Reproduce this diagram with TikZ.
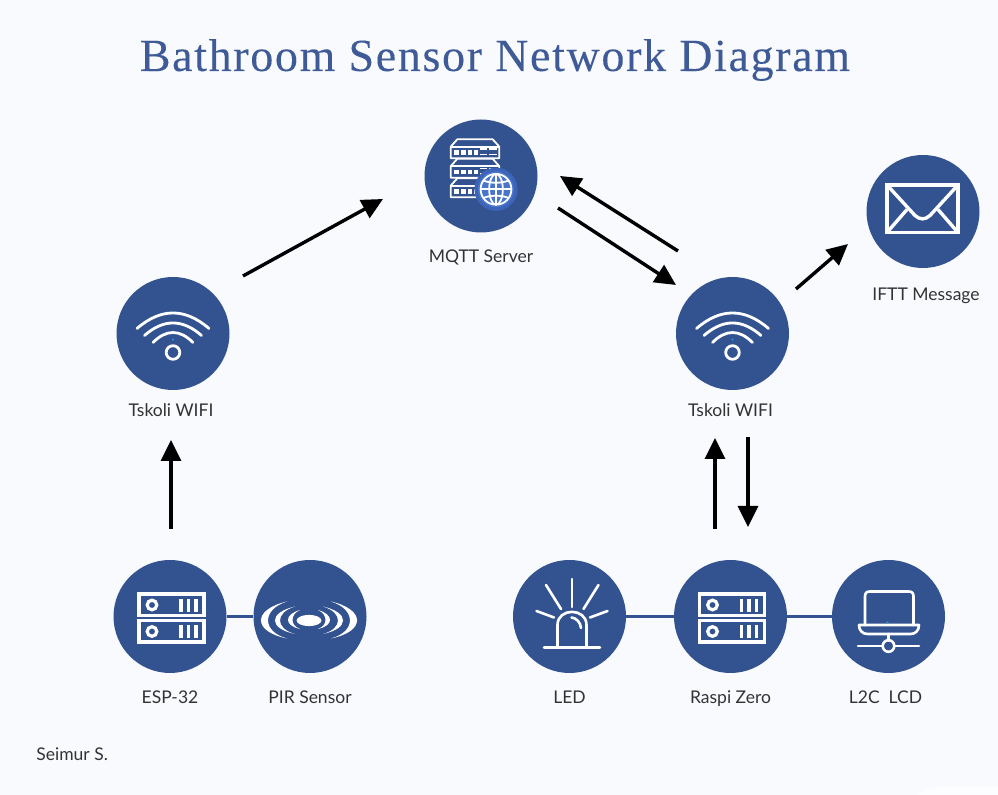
\documentclass[tikz,border=0pt]{standalone}
\usepackage{fontspec}
\usepackage{xcolor}
\usetikzlibrary{positioning,arrows.meta}
\setmainfont{Lato}
\newfontfamily\titlefont[LetterSpace=3.6,FakeBold=0.12]{Liberation Serif}
\definecolor{pagebg}{HTML}{F9FAFD}
\definecolor{cornerbg}{HTML}{FCFDFE}
\definecolor{discblue}{HTML}{325290}
\definecolor{titleblue}{HTML}{3F5B97}
\definecolor{globeblue}{HTML}{4874CB}
\definecolor{globering}{HTML}{3C65B8}
\definecolor{dotblue}{HTML}{2A9ADF}
\definecolor{labelgrey}{HTML}{333333}

\tikzset{
    disc/.style={circle, fill=discblue, draw=none, minimum size=56.5pt, inner sep=0pt},
    tag/.style={text=labelgrey, font=\fontsize{8.75}{10}\selectfont, inner sep=0pt},
    flow/.style={-{Triangle[length=10.5pt,width=10pt]}, line width=1.7pt, black},
    link/.style={line width=1.8pt, discblue},
    glyph/.style={white, line width=1.3pt},
}

% icons, all drawn round the centre of a disc
\newcommand{\iconrack}[1]{
    \begin{scope}[shift={(#1)}, glyph, line width=1.6pt]
        \foreach \yy in {0,26.5} {
            \draw (-31,-22.5+\yy) rectangle (34,-1+\yy);
            \draw (-18,-11.5+\yy) circle (2.4pt);
            \foreach \xx in {11,18.5,26}
                \draw[line width=1.7pt] (\xx,-17.5+\yy) -- (\xx,-4.5+\yy);
        }
    \end{scope}
}
\newcommand{\iconwifi}[1]{
    \begin{scope}[shift={(#1)}, glyph, line width=1.4pt, line cap=round]
        \draw (-36,-5) .. controls (-12,-25.7) and (12,-25.7) .. (36,-5);
        \draw (-28.5,2) .. controls (-9.5,-14.7) and (9.5,-14.7) .. (28.5,2);
        \draw (-20,9) .. controls (-6.7,-4.3) and (6.7,-4.3) .. (20,9);
        \draw (0,19) circle (3.4pt);
        \fill[dotblue] (0,6) circle (0.6pt);
    \end{scope}
}
\newcommand{\iconmail}[1]{
    \begin{scope}[shift={(#1)}, glyph, line width=1.7pt]
        \draw (-36,-26.5) rectangle (35,21);
        \draw (-36,-26.5) -- (-8,4) .. controls (-3,8.5) and (2,8.5) .. (7,4) -- (35,-26.5);
        \draw (-36,21) -- (-16,-2);
        \draw (35,21) -- (15,-2);
    \end{scope}
}
\newcommand{\iconstack}[1]{
    \begin{scope}[shift={(#1)}, glyph, line width=0.9pt]
        \foreach \yy in {0,19.5,39} {
            \draw[line join=round] (-30.3,-17.7+\yy) -- (-30.3,-29.3+\yy) -- (-23.7,-36.7+\yy)
                -- (11.7,-36.7+\yy) -- (18.3,-29.3+\yy) -- (18.3,-17.7+\yy) -- cycle;
            \draw (-30.3,-29.3+\yy) -- (18.3,-29.3+\yy);
            \foreach \xx in {-24.3,-17.7,-11,-5}
                \fill (\xx-2.4,-25.8+\yy) rectangle (\xx+2.4,-21+\yy);
            \draw (-1,-27+\yy) -- (5.7,-27+\yy) (8.3,-27+\yy) -- (16,-27+\yy);
            \draw (-1,-21.5+\yy) -- (5.7,-21.5+\yy) (8.3,-21.5+\yy) -- (16,-21.5+\yy);
        }
        \fill[globering] (15,13.3) circle (10.8pt);
        \fill[globeblue] (15,13.3) circle (9pt);
        \draw (15,13.3) circle (7.7pt);
        \draw (15,13.3) ellipse (3.4pt and 7.7pt);
        \draw (15,-2) -- (15,28.6);
        \draw (-0.3,13.3) -- (30.3,13.3);
        \draw (2.5,4.5) .. controls (9,7.5) and (21,7.5) .. (27.5,4.5);
        \draw (2.5,22) .. controls (9,19) and (21,19) .. (27.5,22);
    \end{scope}
}
\newcommand{\iconpir}[1]{
    \begin{scope}[shift={(#1)}, shift={(-1,4)}]
        \fill[white] (0,0) ellipse (6.2pt and 2.8pt);
        \foreach \flip in {1,-1} {
            \begin{scope}[xscale=\flip]
                \fill[white] (-22,-19) .. controls (-56.7,-11) and (-56.7,11) .. (-22,18)
                    .. controls (-47.3,11) and (-47.3,-11) .. cycle;
                \fill[white] (-14,-14) .. controls (-40.7,-8) and (-40.7,8) .. (-14,13.5)
                    .. controls (-34,8) and (-34,-8) .. cycle;
                \fill[white] (-9,-10.5) .. controls (-25,-6) and (-25,5) .. (-9,8.5)
                    .. controls (-19,5) and (-19,-6) .. cycle;
            \end{scope}
        }
    \end{scope}
}
\newcommand{\iconled}[1]{
    \begin{scope}[shift={(#1)}, glyph, line cap=round]
        \draw (-25.5,31) -- (30.5,31);
        \draw (-12,31) -- (-12,8.5) .. controls (-12,-9) and (17,-9) .. (17,8.5) -- (17,31);
        \draw (2,1) .. controls (7,1.5) and (11,6) .. (11.5,11.5);
        \draw (2.5,-37.5) -- (2.5,-9.5);
        \draw (-23.5,-31.5) -- (-8.5,-7.5);
        \draw (29,-31.5) -- (14,-7.5);
        \draw (-33,-5.5) -- (-15.5,1);
        \draw (38,-5.5) -- (20.5,1);
    \end{scope}
}
\newcommand{\iconlaptop}[1]{
    \begin{scope}[shift={(#1)}, glyph, line cap=round, line join=round]
        \draw (-23.5,8.5) -- (-23.5,-20) .. controls (-23.5,-23.5) and (-22,-25) .. (-18.5,-25)
            -- (20,-25) .. controls (23.5,-25) and (25,-23.5) .. (25,-20) -- (25,8.5);
        \draw (-29.5,8.5) -- (30.5,8.5) .. controls (30.5,14) and (27,17.5) .. (22,17.5)
            -- (-21,17.5) .. controls (-26,17.5) and (-29.5,14) .. cycle;
        \draw (0,17.5) -- (0,24);
        \draw (0,29.5) circle (2.9pt);
        \draw (-30.5,29.5) -- (-6,29.5) (6,29.5) -- (30.5,29.5);
        \fill[dotblue] (-1,6) circle (0.6pt);
    \end{scope}
}

\begin{document}
\begin{tikzpicture}[x=0.5pt, y=-0.5pt]
    \useasboundingbox (0,0) rectangle (998,795);
    \fill[pagebg] (0,0) rectangle (998,795);
    \fill[cornerbg] (918,795) .. controls (925,789) and (935,786) .. (945,786) -- (998,786) -- (998,795) -- cycle;

    \node[text=titleblue, font=\titlefont\fontsize{23}{28}\selectfont] (title) at (495,60) {Bathroom Sensor Network Diagram};

    \node[disc] (mqtt) at (481,176) {};
    \node[disc] (mail) at (923,211.5) {};
    \node[disc] (wifiL) at (173,333.5) {};
    \node[disc] (wifiR) at (732.5,333.5) {};
    \node[disc] (esp) at (170,616.5) {};
    \node[disc] (pir) at (310,616.5) {};
    \node[disc] (led) at (569.5,616.5) {};
    \node[disc] (raspi) at (730.5,616.5) {};
    \node[disc] (lcd) at (888.5,616.5) {};

    \node[tag, below=8.5pt of mqtt] (mqttTag) {MQTT Server};
    \node[tag, below=9.5pt of mail, xshift=1.5pt] (mailTag) {IFTT Message};
    \node[tag, below=6.5pt of wifiL, xshift=-1pt] (wifiLTag) {Tskoli WIFI};
    \node[tag, below=6.5pt of wifiR, xshift=-1pt] (wifiRTag) {Tskoli WIFI};
    \node[tag, below=8.5pt of esp] (espTag) {ESP-32};
    \node[tag, below=8.5pt of pir] (pirTag) {PIR Sensor};
    \node[tag, below=8.5pt of led] (ledTag) {LED};
    \node[tag, below=8.5pt of raspi] (raspiTag) {Raspi Zero};
    \node[tag, below=8.5pt of lcd, xshift=-1.5pt] (lcdTag) {L2C\ \ LCD};
    \node[tag, anchor=west] (credit) at (36,754) {Seimur S.};

    \draw[link] (esp) -- (pir);
    \draw[link] (led) -- (raspi);
    \draw[link] (raspi) -- (lcd);

    \iconrack{esp}
    \iconrack{raspi}
    \iconpir{pir}
    \iconled{led}
    \iconlaptop{lcd}
    \iconwifi{wifiL}
    \iconwifi{wifiR}
    \iconmail{mail}
    \iconstack{mqtt}

    % arrows stop well short of the discs
    \draw[flow] ([shift={(1,-87.5)}]esp.center) -- ([shift={(-2,106.5)}]wifiL.center);
    \draw[flow] ([shift={(70,-57.5)}]wifiL.center) -- ([shift={(-98,23)}]mqtt.center);
    \draw[flow] ([shift={(-54.5,-82.5)}]wifiR.center) -- ([shift={(79,0)}]mqtt.center);
    \draw[flow] ([shift={(77,32)}]mqtt.center) -- ([shift={(-56.5,-48.5)}]wifiR.center);
    \draw[flow] ([shift={(63.5,-44.5)}]wifiR.center) -- ([shift={(-75,32.5)}]mail.center);
    \draw[flow] ([shift={(-15.5,-87.5)}]raspi.center) -- ([shift={(-17.5,104.5)}]wifiR.center);
    \draw[flow] ([shift={(15.5,103.5)}]wifiR.center) -- ([shift={(17.5,-89.5)}]raspi.center);
\end{tikzpicture}
\end{document}
